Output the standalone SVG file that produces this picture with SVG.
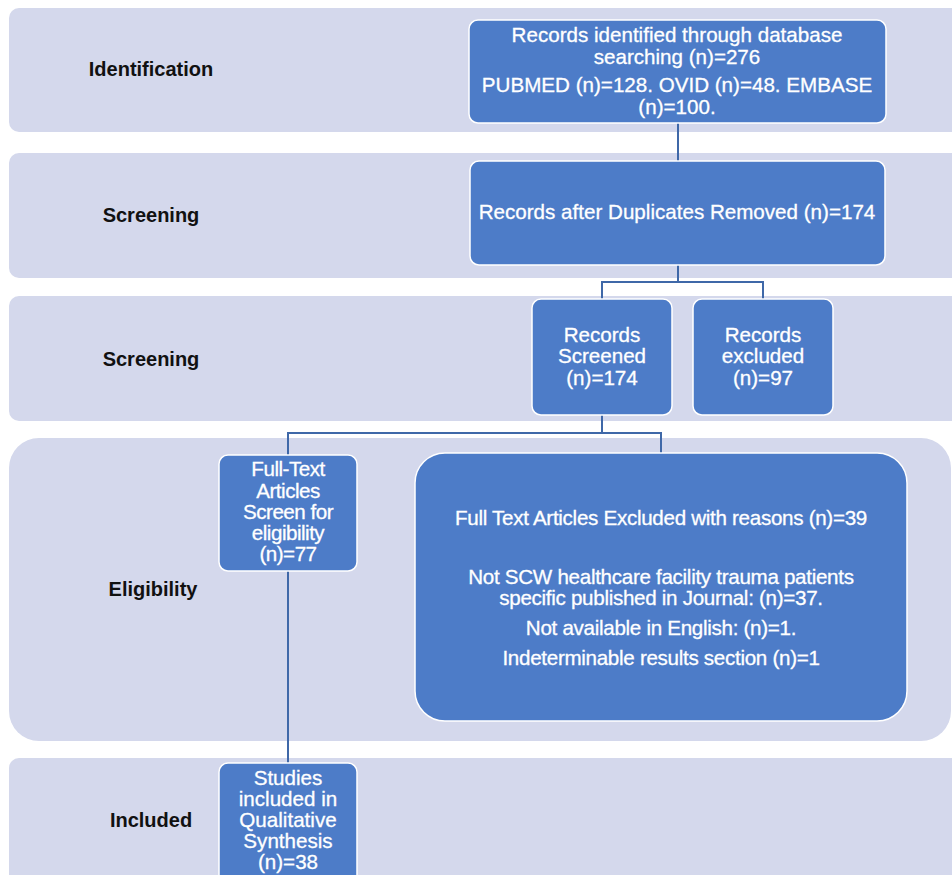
<svg xmlns="http://www.w3.org/2000/svg" width="952" height="875" viewBox="0 0 952 875">
<style>
.band{fill:#d4d8ec}
.node{fill:#4d7cc8;stroke:#ffffff;stroke-width:1.5}
.lbl{font-family:"Liberation Sans",Arial,sans-serif;font-weight:bold;font-size:20px;fill:#111;text-anchor:middle}
.t{font-family:"Liberation Sans",Arial,sans-serif;font-size:20.6px;fill:#fff;stroke:#fff;stroke-width:0.3;text-anchor:middle}
.c{fill:none;stroke:#3f68a8;stroke-width:2}
</style>
<rect width="952" height="875" fill="#ffffff"/>
<g id="band-identification"><rect class="band" x="9" y="8" width="960" height="124" rx="10"/><text class="lbl" x="151" y="76">Identification</text></g>
<g id="band-screening1"><rect class="band" x="9" y="153" width="960" height="125" rx="10"/><text class="lbl" x="151" y="222">Screening</text></g>
<g id="band-screening2"><rect class="band" x="9" y="296" width="960" height="125" rx="10"/><text class="lbl" x="151" y="366">Screening</text></g>
<g id="band-eligibility"><rect class="band" x="9" y="438" width="942" height="303" rx="30"/><text class="lbl" x="153" y="596">Eligibility</text></g>
<g id="band-included"><rect class="band" x="9" y="758" width="960" height="140" rx="10"/><text class="lbl" x="151" y="827">Included</text></g>
<g id="connectors">
<path class="c" d="M678 123V161"/>
<path class="c" d="M678 265V282H602V299M678 282H763V299"/>
<path class="c" d="M602 415V433H288V455M602 433H661V453"/>
<path class="c" d="M288 571V763"/>
</g>
<g id="n-identified"><rect class="node" x="469" y="20" width="417" height="103" rx="9"/>
<text class="t" x="677" y="42">Records identified through database</text>
<text class="t" x="677" y="64">searching (n)=276</text>
<text class="t" x="677" y="92">PUBMED (n)=128. OVID (n)=48. EMBASE</text>
<text class="t" x="677" y="114">(n)=100.</text></g>
<g id="n-dups"><rect class="node" x="470" y="161" width="415" height="104" rx="9"/>
<text class="t" x="677" y="219">Records after Duplicates Removed (n)=174</text></g>
<g id="n-screened"><rect class="node" x="532" y="299" width="140" height="116" rx="9"/>
<text class="t" x="602" y="342">Records</text>
<text class="t" x="602" y="363">Screened</text>
<text class="t" x="602" y="385">(n)=174</text></g>
<g id="n-excluded"><rect class="node" x="693" y="299" width="140" height="116" rx="9"/>
<text class="t" x="763" y="342">Records</text>
<text class="t" x="763" y="363">excluded</text>
<text class="t" x="763" y="385">(n)=97</text></g>
<g id="n-fulltext"><rect class="node" x="219" y="455" width="138" height="116" rx="9"/>
<text class="t" x="288" y="476" letter-spacing="-0.5">Full-Text</text>
<text class="t" x="288" y="498" letter-spacing="-0.5">Articles</text>
<text class="t" x="288" y="519" letter-spacing="-0.5">Screen for</text>
<text class="t" x="288" y="540" letter-spacing="-0.5">eligibility</text>
<text class="t" x="288" y="561" letter-spacing="-0.5">(n)=77</text></g>
<g id="n-ftexcluded"><rect class="node" x="415" y="453" width="492" height="268" rx="30"/>
<text class="t" x="661" y="525" letter-spacing="-0.3">Full Text Articles Excluded with reasons (n)=39</text>
<text class="t" x="661" y="584" letter-spacing="-0.3">Not SCW healthcare facility trauma patients</text>
<text class="t" x="661" y="605" letter-spacing="-0.3">specific published in Journal: (n)=37.</text>
<text class="t" x="661" y="635" letter-spacing="-0.3">Not available in English: (n)=1.</text>
<text class="t" x="661" y="665" letter-spacing="-0.3">Indeterminable results section (n)=1</text></g>
<g id="n-included"><rect class="node" x="219" y="763" width="138" height="130" rx="9"/>
<text class="t" x="288" y="785">Studies</text>
<text class="t" x="288" y="806">included in</text>
<text class="t" x="288" y="827">Qualitative</text>
<text class="t" x="288" y="848">Synthesis</text>
<text class="t" x="288" y="869">(n)=38</text></g>
</svg>
